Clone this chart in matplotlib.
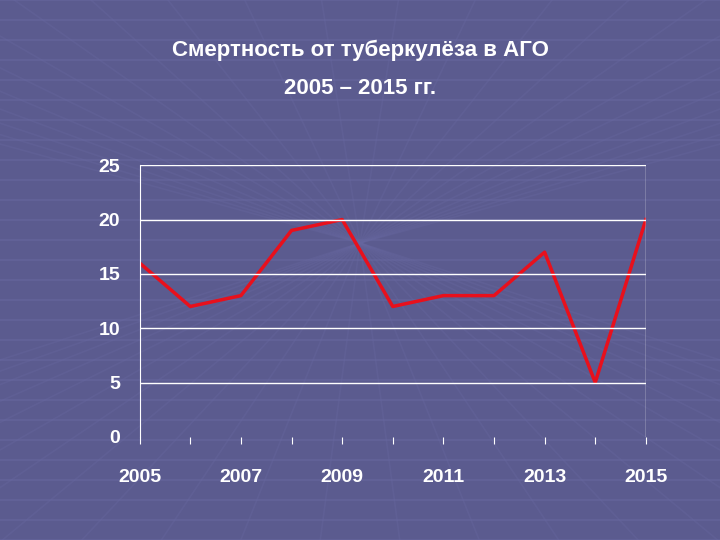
import matplotlib
matplotlib.use("Agg")
import matplotlib.pyplot as plt
import numpy as np

years = [2005, 2006, 2007, 2008, 2009, 2010, 2011, 2012, 2013, 2014, 2015]
deaths = [16, 12, 13, 19, 20, 12, 13, 13, 17, 5, 20]
yticks = [0, 5, 10, 15, 20, 25]
xlabels = ["2005", "2007", "2009", "2011", "2013", "2015"]

plt.rcParams['font.family'] = ['Liberation Sans', 'DejaVu Sans']
bg = "#5b5b8f"
fig = plt.figure(figsize=(7.2, 5.4), dpi=100, facecolor=bg)
bgax = fig.add_axes([0, 0, 1, 1], zorder=-1)
bgax.set_facecolor(bg)
bgax.set_xlim(0, 1); bgax.set_ylim(0, 1); bgax.axis("off")
for y in np.linspace(0, 1, 28):
    bgax.axhline(y, color="#6767a0", lw=1.5, alpha=0.5)
for x in np.linspace(-1, 2, 24):
    bgax.plot([0.5, x], [0.55, -0.1], color="#6767a0", lw=1.2, alpha=0.35)
    bgax.plot([0.5, x], [0.55, 1.1], color="#6767a0", lw=1.2, alpha=0.35)

ax = fig.add_axes([0.194, 0.191, 0.703, 0.503])
ax.set_facecolor("none")
ax.plot(range(len(years)), deaths, color="#e8101c", lw=2.5)
ax.set_xlim(0, len(years) - 1)
ax.set_ylim(0, 25)
ax.set_yticks(yticks)
ax.set_yticklabels([str(v) for v in yticks], color="white", fontsize=14, fontweight="bold")
ax.set_xticks(range(len(years)))
ax.set_xticklabels([str(y) if str(y) in xlabels else "" for y in years],
                   color="white", fontsize=14, fontweight="bold")
ax.tick_params(axis="x", colors="white", length=5, pad=18, direction="out")
ax.tick_params(axis="y", length=0, pad=14)
for v in yticks[1:]:
    ax.axhline(v, color="white", lw=1)
ax.axvline(len(years) - 1, color="white", lw=1)
for s in ["top", "right", "bottom"]:
    ax.spines[s].set_visible(False)
ax.spines["left"].set_color("white")

fig.text(0.5, 0.907, "Смертность от туберкулёза в АГО",
         ha="center", va="center", color="white", fontsize=16, fontweight="bold")
fig.text(0.5, 0.837, "2005 – 2015 гг.",
         ha="center", va="center", color="white", fontsize=16, fontweight="bold")
fig.savefig("out.png", dpi=100, facecolor=bg)
